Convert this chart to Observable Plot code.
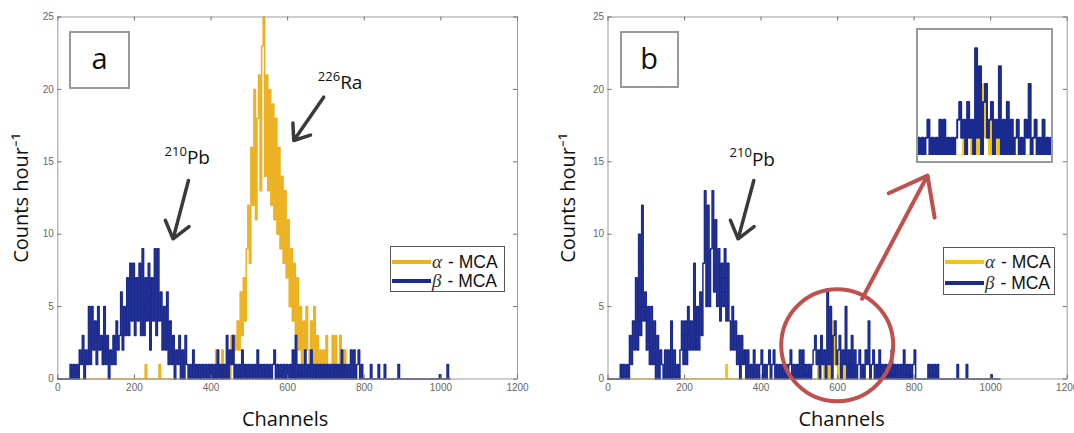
<!DOCTYPE html>
<html><head><meta charset="utf-8">
<script src="https://cdn.jsdelivr.net/npm/d3@7"></script>
<script src="https://cdn.jsdelivr.net/npm/@observablehq/plot@0.6"></script>
<style>
body{margin:0;background:#fff;}
#wrap{position:relative;width:1074px;height:433px;overflow:hidden;font-family:"Open Sans",sans-serif;}
.panel{position:absolute;top:0;}
.tag{position:absolute;border:2px solid #9a9a9a;box-sizing:border-box;display:flex;align-items:center;justify-content:center;font-family:"Open Sans",sans-serif;font-size:29px;color:#111;background:#fff;padding-bottom:4px;}
.legend{position:absolute;border:1.5px solid #555;box-sizing:border-box;background:#fff;}
.legend .row{position:absolute;left:1px;height:20px;display:flex;align-items:center;font-family:"Liberation Sans",Arial,sans-serif;font-size:17.5px;color:#111;white-space:nowrap;}
.legend .sw{display:inline-block;width:39px;height:4px;margin-right:1px;}
.legend i{font-family:"Liberation Serif",serif;font-size:19px;margin-right:6px;color:#333;}
.inset{position:absolute;left:916px;top:28px;width:137px;height:135px;border:2px solid #9a9a9a;box-sizing:border-box;background:#fff;}
</style></head><body><div id="wrap"></div>
<script>
// ---------- data (counts per 4-channel bin, starting at channel 0) ----------
const binWidth = 4;
const xTicks = [0, 200, 400, 600, 800, 1000, 1200];
const yTicks = [0, 5, 10, 15, 20, 25];

const betaA = [0,0,0,0,0,0,0,0,
 1,0,1,0,1,
 0,2,1,3,0,2,1,
 5,1,5,2,4,
 1,5,2,3,1,5,
 1,3,0,2,1,3,
 1,4,2,
 3,6,2,5,3,
 7,3,8,4,
 8,3,7,4,8,3,
 9,
 3,7,4,8,2,7,4,
 9,3,9,4,
 6,2,5,2,6,
 1,4,1,3,
 0,2,1,3,0,2,0,3,1,
 0,1,0,2,0,1,0,1,0,1,0,
 1,0,1,0,1,0,1,0,2,0,1,0,1,0,
 3,0,2,1,3,0,
 1,0,1,0,2,0,1,0,1,0,1,0,1,0,2,
 0,1,0,1,0,1,0,1,0,1,
 2,0,1,0,1,0,1,0,1,0,1,0,2,0,
 3,0,1,
 0,1,0,2,0,1,0,2,0,1,0,1,0,
 1,0,1,0,1,0,1,0,1,0,1,0,1,
 0,2,0,1,0,1,0,2,0,2,0,1,2,0,1,0,
 0,0,0,0,1,0,0,0,0,1,0,0,0,1,
 0,0,0,0,0,0,0,0,1,
 0,0,0,0,0,0,0,0,0,0,0,0,0,0,0,0,0,0,0,0,0,0,0,0,0,0,
 0.3,0,0,0,0,1,0];

const alphaA = [0,0,0,0,0,0,0,0,0,0,
 0,0,0,0,0,0,0,0,0,0,
 0,0,0,0,0,0,0,0,0,0,
 0,0,0,0,0,0,0,0,0,0,
 0,0,0,0,0,0,0,0,0,0,
 0,0,0,0,0,0,0,
 1,
 0,0,0,0,0,0,0,0,
 1,
 0,0,0,0,0,0,0,0,0,0,
 0,0,0,0,0,0,0,0,0,0,
 0,0,0,0,0,0,0,0,0,0,
 0,0,
 0,1,0,0,2,0,1,0,2,0,1,0,
 2,0,3,1,3,2,
 4,2,6,
 3,7,4,9,
 12,8,16,
 12,20,11,18,
 21,13,23,25,
 14,21,13,20,
 12,19,11,18,
 10,16,9,14,
 8,13,7,
 11,5,9,
 4,8,3,7,
 2,5,1,4,2,5,2,
 1,4,1,5,1,3,1,
 2,0,2,0,3,1,0,
 1,3,0,3,1,0,3,1,0,2,
 0,0,0,0,0,0,0,0,0,0,
 0,0,0,0,0,0,0,0,0,0,
 0,0,0,0,0,0,0,0,0,0,
 0,0,0,0,0,0,0,0,0,0,
 0,0,0,0,0,0,0,0,0,0,
 0,0,0,0,0,0,0,0,0,0,
 0,0,0,0,0,0,0,0];

const betaB = [0,0,0,0,0,0,0,0,
 1,0,1,0,1,
 0,3,1,
 4,2,7,2,
 10,3,12,4,
 6,2,5,
 1,5,1,4,
 0,3,0,2,1,
 0,2,0,2,0,4,0,
 2,0,1,0,2,4,
 1,4,1,5,2,4,
 2,8,2,5,2,6,3,
 8,13,5,12,
 5,9,13,6,11,
 5,9,4,8,
 5,9,4,8,4,
 2,5,2,4,
 1,3,0,3,1,2,
 0,2,0,1,0,2,0,
 1,0,1,2,0,1,0,1,2,0,
 1,2,0,1,0,1,0,1,0,1,
 0,1,2,0,1,0,1,0,2,0,
 2,0,1,0,1,0,1,2,3,
 1,2,0,3,1,2,0,
 6,
 1,5,0,3,4,1,
 2,3,0,2,1,
 5,0,
 2,0,3,0,2,0,1,2,0,1,0,2,1,
 4,
 0,1,2,0,1,0,2,0,
 1,0,1,0,1,0,2,0,1,0,1,0,1,0,2,0,1,0,1,0,1,
 2,
 0,0,0,0,0,0,0,0,
 1,0,1,0,1,0,1,
 0,0,0,0,0,0,0,0,0,0,0,0,
 1,
 0,0,0,0,0,
 1,
 0,0,0,0,0,0,0,0,0,0,0,0,0,0,0,
 0.3,
 0,0,0,0,0];

const alphaB = [0,0,0,0,0,0,0,0,0,0,
 0,0,0,0,0,0,0,0,0,0,
 0,0,0,0,0,0,0,0,0,0,
 0,0,0,0,0,0,0,0,0,0,
 0,0,0,0,0,0,0,0,0,0,
 0,0,0,0,0,0,0,0,0,0,
 0,0,0,0,0,0,0,0,0,0,
 0,0,0,0,0,0,0,
 1,
 0,0,0,0,0,0,0,0,0,0,
 0,0,0,0,0,0,0,0,0,0,
 0,0,0,0,0,0,0,0,0,0,
 0,0,0,0,0,0,0,0,0,0,
 0,0,0,0,0,0,0,0,0,0,
 0,0,0,0,0,0,0,0,
 0,1,0,2,1,0,1,1,0,1,1,4,1,1,0,2,1,0,1,0,0,0,1,0,1,
 0,0,0,0,0,0,0,0,0,0,
 0,0,0,0,0,0,0,0,0,0,
 0,0,0,0,0,0,0,0,0,0,
 0,0,0,0,0,0,0,0,0,0,
 0,0,0,0,0,0,0,0,0,0,
 0,0,0,0,0,0,0,0,0,0,
 0,0,0,0,0,0,0,0,0,0,
 0,0,0,0,0,0,0,0,0,0,
 0,0,0,0,0,0,0,0,0,0,
 0,0,0,0,0];

// annotations (data coordinates: channel, counts/hour)
const labelsA = [{iso: "226", el: "Ra", ch: 737, supCount: 20.9, count: 20.46},
                 {iso: "210", el: "Pb", ch: 337, supCount: 15.72, count: 15.26}];
const arrowsA = [{x1: 694, y1: 19.46, x2: 616, y2: 16.47},
                 {x1: 341, y1: 13.71, x2: 301, y2: 9.68}];
const labelsB = [{iso: "210", el: "Pb", ch: 376, supCount: 15.6, count: 15.1}];
const arrowsB = [{x1: 381, y1: 13.71, x2: 340, y2: 9.68}];
const zoomCircle = [{ch: 599, count: 2.33}];
const zoomArrow = [{x1: 664, y1: 5.54, x2: 835, y2: 14.05}];
const insetRange = [458, 726];

// ---------- styles ----------
const betaColor = "#1a2a8f";
const alphaColorA = "#edb120";
const alphaColorB = "#f2c616";
const redColor = "#c0504d";
const arrowColor = "#3a3a3a";

function stepRows(values) {
  const rows = values.map((v, i) => ({ch: i * binWidth, v}));
  rows.push({ch: values.length * binWidth, v: values[values.length - 1]});
  return rows;
}

const W = 537, H = 433, mTop = 16.5, mBottom = 54.5;
const innerH = H - mTop - mBottom;

function panel({beta, alpha, alphaColor, marginLeft, marginRight, labels, arrows, ylabelDx, xlabelDx, extra = []}) {
  const innerW = W - marginLeft - marginRight;
  const tickStyle = {stroke: "#6f6f6f", strokeWidth: 1};
  return Plot.plot({
    width: W, height: H, marginLeft, marginRight, marginTop: mTop, marginBottom: mBottom,
    style: {background: "none", fontFamily: "Liberation Sans, Arial, sans-serif", fontSize: "10px", overflow: "visible"},
    x: {domain: [0, 1200]},
    y: {domain: [0, 25]},
    marks: [
      Plot.line(stepRows(alpha), {x: "ch", y: "v", curve: "step-after", stroke: alphaColor, strokeWidth: 1.5}),
      Plot.line(stepRows(beta), {x: "ch", y: "v", curve: "step-after", stroke: betaColor, strokeWidth: 1.5}),
      Plot.frame({stroke: "#9c9c9c"}),
      Plot.tickX(xTicks, {x: d => d, insetTop: innerH - 4, ...tickStyle}),
      Plot.tickX(xTicks, {x: d => d, insetBottom: innerH - 4, ...tickStyle}),
      Plot.tickY(yTicks, {y: d => d, insetRight: innerW - 4, ...tickStyle}),
      Plot.tickY(yTicks, {y: d => d, insetLeft: innerW - 4, ...tickStyle}),
      Plot.axisX(xTicks, {tickSize: 0, tickPadding: 5, label: null, color: "#666", fontSize: 10, tickFormat: d => String(d)}),
      Plot.axisY(yTicks, {tickSize: 0, tickPadding: 4, label: null, color: "#666", fontSize: 10, tickFormat: d => String(d)}),
      Plot.text(["Channels"], {frameAnchor: "bottom", dy: 41, dx: xlabelDx, textAnchor: "middle", lineAnchor: "middle", fontSize: 20, fontFamily: "Open Sans", fill: "#111"}),
      Plot.text(["Counts hour⁻¹"], {frameAnchor: "left", dx: ylabelDx, rotate: -90, textAnchor: "middle", lineAnchor: "middle", fontSize: 20, fontFamily: "Open Sans", fill: "#111"}),
      Plot.arrow(arrows, {x1: "x1", y1: "y1", x2: "x2", y2: "y2", stroke: arrowColor, strokeWidth: 3.5, headLength: 13, headAngle: 75}),
      Plot.text(labels, {x: "ch", y: "count", text: "el", textAnchor: "start", fontSize: 19, fontFamily: "Open Sans", fill: "#111"}),
      Plot.text(labels, {x: "ch", y: "supCount", text: "iso", textAnchor: "end", fontSize: 13, fontFamily: "Open Sans", fill: "#111"}),
      ...extra
    ]
  });
}

const wrap = document.getElementById("wrap");

const svgA = panel({beta: betaA, alpha: alphaA, alphaColor: alphaColorA, marginLeft: 57.3, marginRight: 20,
  labels: labelsA, arrows: arrowsA, ylabelDx: -36, xlabelDx: -2.5});
svgA.classList.add("panel"); svgA.style.left = "0px";
wrap.appendChild(svgA);

const svgB = panel({beta: betaB, alpha: alphaB, alphaColor: alphaColorB, marginLeft: 70.5, marginRight: 7.3,
  labels: labelsB, arrows: arrowsB, ylabelDx: -39.5, xlabelDx: 4,
  extra: [
    Plot.dot(zoomCircle, {x: "ch", y: "count", r: 56, stroke: redColor, strokeWidth: 4, fill: "none"}),
    Plot.arrow(zoomArrow, {x1: "x1", y1: "y1", x2: "x2", y2: "y2", stroke: redColor, strokeWidth: 4, headLength: 16, headAngle: 75})
  ]});
svgB.classList.add("panel"); svgB.style.left = "537px";
wrap.appendChild(svgB);

// tags
function tag(text, left, top, w, h) {
  const d = document.createElement("div");
  d.className = "tag"; d.textContent = text;
  Object.assign(d.style, {left: left + "px", top: top + "px", width: w + "px", height: h + "px"});
  wrap.appendChild(d);
}
tag("a", 69, 30.5, 61, 58.5);
tag("b", 619.5, 30.5, 59, 57);

// legends
function legend(left, top, w, h, alphaColor, rowTops) {
  const d = document.createElement("div");
  d.className = "legend";
  Object.assign(d.style, {left: left + "px", top: top + "px", width: w + "px", height: h + "px"});
  const entries = [{sym: "α", color: alphaColor}, {sym: "β", color: betaColor}];
  entries.forEach((e, i) => {
    const r = document.createElement("div");
    r.className = "row"; r.style.top = rowTops[i] + "px";
    const sw = document.createElement("span"); sw.className = "sw"; sw.style.background = e.color;
    const it = document.createElement("i"); it.textContent = e.sym;
    r.appendChild(sw); r.appendChild(it); r.appendChild(document.createTextNode("- MCA"));
    d.appendChild(r);
  });
  wrap.appendChild(d);
}
legend(390, 246, 115, 46, alphaColorA, [5, 24]);
legend(943, 247, 112, 48, alphaColorB, [4, 25]);

// inset (zoom of the circled region of panel b)
const inset = document.createElement("div");
inset.className = "inset";
const svgI = Plot.plot({
  width: 133, height: 131, marginTop: 0, marginBottom: 6, marginLeft: 0, marginRight: 0,
  style: {background: "none"},
  x: {domain: insetRange, axis: null},
  y: {domain: [0, 7], axis: null},
  marks: [
    Plot.line(stepRows(alphaB), {x: "ch", y: "v", curve: "step-after", stroke: alphaColorB, strokeWidth: 2, clip: true}),
    Plot.line(stepRows(betaB), {x: "ch", y: "v", curve: "step-after", stroke: betaColor, strokeWidth: 2, clip: true})
  ]
});
inset.appendChild(svgI);
wrap.appendChild(inset);
</script></body></html>
